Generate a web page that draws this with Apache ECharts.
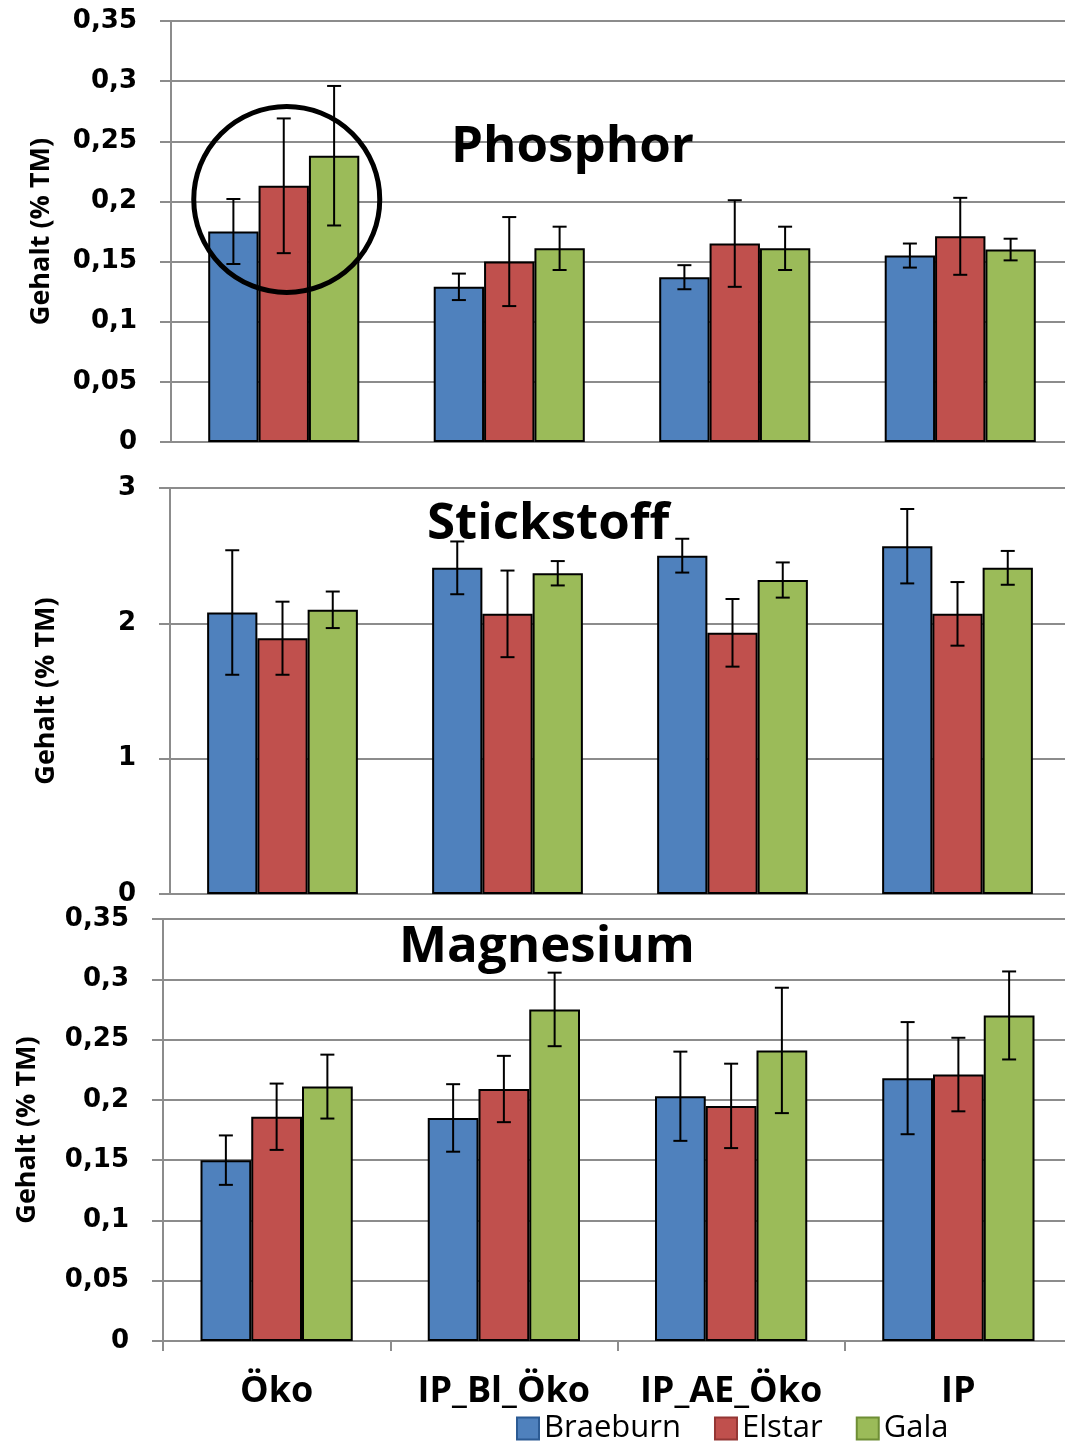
<!DOCTYPE html>
<html>
<head>
<meta charset="utf-8">
<script src="https://cdn.jsdelivr.net/npm/echarts@6/dist/echarts.min.js"></script>
<style>
  html, body { margin: 0; padding: 0; background: #fff; overflow: hidden; }
  #chart { width: 1080px; height: 1441px; }
</style>
</head>
<body>
<div id="chart"></div>
<script>
// Kategorien und Sorten
var categories = ['Öko', 'IP_Bl_Öko', 'IP_AE_Öko', 'IP'];
var varieties = ['Braeburn', 'Elstar', 'Gala'];
var colors = ['#4F81BD', '#C0504D', '#9BBB59'];
var legendBorders = ['#2C5B94', '#943634', '#6E8E35'];
var panelTitles = ['Phosphor', 'Stickstoff', 'Magnesium'];

// Phosphor (Mittelwert, Standardabweichung)
var phosphorBraeburn = [0.175, 0.129, 0.137, 0.155];
var phosphorElstar   = [0.213, 0.150, 0.165, 0.171];
var phosphorGala     = [0.238, 0.161, 0.161, 0.160];
var phosphorBraeburnSd = [0.027, 0.011, 0.010, 0.010];
var phosphorElstarSd   = [0.056, 0.037, 0.036, 0.032];
var phosphorGalaSd     = [0.058, 0.018, 0.018, 0.009];

// Stickstoff
var stickstoffBraeburn = [2.08, 2.41, 2.50, 2.57];
var stickstoffElstar   = [1.89, 2.07, 1.93, 2.07];
var stickstoffGala     = [2.10, 2.37, 2.32, 2.41];
var stickstoffBraeburnSd = [0.46, 0.195, 0.125, 0.275];
var stickstoffElstarSd   = [0.27, 0.32, 0.25, 0.235];
var stickstoffGalaSd     = [0.135, 0.09, 0.13, 0.125];

// Magnesium
var magnesiumBraeburn = [0.150, 0.185, 0.203, 0.218];
var magnesiumElstar   = [0.186, 0.209, 0.195, 0.221];
var magnesiumGala     = [0.211, 0.275, 0.241, 0.270];
var magnesiumBraeburnSd = [0.0205, 0.028, 0.037, 0.0465];
var magnesiumElstarSd   = [0.0275, 0.0275, 0.035, 0.0305];
var magnesiumGalaSd     = [0.0265, 0.0305, 0.052, 0.0365];

// Achsen
var yMax = [0.35, 3, 0.35];
var yInterval = [0.05, 1, 0.05];

var means = [
    [phosphorBraeburn, phosphorElstar, phosphorGala],
    [stickstoffBraeburn, stickstoffElstar, stickstoffGala],
    [magnesiumBraeburn, magnesiumElstar, magnesiumGala]
];
var sds = [
    [phosphorBraeburnSd, phosphorElstarSd, phosphorGalaSd],
    [stickstoffBraeburnSd, stickstoffElstarSd, stickstoffGalaSd],
    [magnesiumBraeburnSd, magnesiumElstarSd, magnesiumGalaSd]
];

var catGap = 0.33;
var gridGray = '#8C8C8C';
var tickFont = 'DejaVu Sans';
var textFont = 'Open Sans';

// der Container ist etwas breiter als das Fenster, damit die Kategorien rechts weiterlaufen
var grids = [
    {left: 171, top: 21, width: 902, height: 421},
    {left: 170, top: 488, width: 900, height: 406},
    {left: 163, top: 919, width: 909, height: 422}
];
var nameGaps = [116, 110, 122];
var titlePos = [
    {left: 446, top: 117},
    {left: 422, top: 494},
    {left: 394, top: 917}
];

var chart = echarts.init(document.getElementById('chart'));

var xAxes = [], yAxes = [], series = [], titles = [];
for (var p = 0; p < 3; p++) {
    var last = (p === 2);
    xAxes.push({
        type: 'category',
        gridIndex: p,
        data: categories,
        axisLine: {show: true, lineStyle: {color: gridGray, width: 2}},
        axisTick: {show: last, interval: 0, length: 10, lineStyle: {color: gridGray, width: 2}},
        axisLabel: {
            show: last, interval: 0, margin: 33, color: '#000',
            fontFamily: textFont, fontWeight: 'bold', fontSize: 36
        }
    });
    yAxes.push({
        type: 'value',
        gridIndex: p,
        min: 0,
        max: yMax[p],
        interval: yInterval[p],
        name: 'Gehalt (% TM)',
        nameLocation: 'middle',
        nameRotate: 90,
        nameGap: nameGaps[p],
        nameTextStyle: {color: '#000', fontFamily: textFont, fontWeight: 'bold', fontSize: 27},
        axisLine: {show: true, lineStyle: {color: gridGray, width: 2}},
        axisTick: {show: true, length: 11, lineStyle: {color: gridGray, width: 2}},
        splitLine: {lineStyle: {color: gridGray, width: 2}},
        axisLabel: {
            margin: 34, color: '#000',
            fontFamily: tickFont, fontWeight: 'bold', fontSize: 26,
            formatter: function (v) { return String(+v.toFixed(2)).replace('.', ','); }
        }
    });
    titles.push({
        text: panelTitles[p],
        left: titlePos[p].left,
        top: titlePos[p].top,
        textStyle: {color: '#000', fontFamily: textFont, fontWeight: 'bold', fontSize: 51}
    });

    for (var k = 0; k < 3; k++) {
        series.push({
            name: varieties[k],
            type: 'bar',
            xAxisIndex: p,
            yAxisIndex: p,
            barGap: '0%',
            barCategoryGap: (catGap * 100) + '%',
            itemStyle: {color: colors[k], borderColor: '#000', borderWidth: 2},
            data: means[p][k]
        });
        // Fehlerbalken
        var errData = [];
        for (var i = 0; i < categories.length; i++) {
            errData.push([i, means[p][k][i], sds[p][k][i]]);
        }
        series.push({
            name: varieties[k] + ' SD',
            type: 'custom',
            xAxisIndex: p,
            yAxisIndex: p,
            z: 5,
            data: errData,
            renderItem: (function (idx) {
                return function (params, api) {
                    var band = api.size([1, 0])[0];
                    var total = band * (1 - catGap);
                    var barW = total / 3;
                    var c = api.coord([api.value(0), api.value(1)]);
                    var x = c[0] - total / 2 + barW * (idx + 0.5);
                    var yTop = api.coord([api.value(0), api.value(1) + api.value(2)])[1];
                    var yBot = api.coord([api.value(0), api.value(1) - api.value(2)])[1];
                    var cap = 7;
                    var st = {stroke: '#000', lineWidth: 2};
                    return {
                        type: 'group',
                        children: [
                            {type: 'line', shape: {x1: x, y1: yTop, x2: x, y2: yBot}, style: st},
                            {type: 'line', shape: {x1: x - cap, y1: yTop, x2: x + cap, y2: yTop}, style: st},
                            {type: 'line', shape: {x1: x - cap, y1: yBot, x2: x + cap, y2: yBot}, style: st}
                        ]
                    };
                };
            })(k)
        });
    }
}

var option = {
    animation: false,
    backgroundColor: '#fff',
    title: titles,
    grid: grids,
    xAxis: xAxes,
    yAxis: yAxes,
    legend: {
        left: 511,
        top: 1408,
        itemWidth: 22,
        itemHeight: 22,
        itemGap: 33,
        selectedMode: false,
        textStyle: {color: '#000', fontFamily: textFont, fontSize: 31},
        data: varieties.map(function (v, i) {
            return {name: v, icon: 'rect', itemStyle: {color: colors[i], borderColor: legendBorders[i], borderWidth: 2}};
        })
    },
    series: series
};
chart.setOption(option);

// Kreis um die Öko-Gruppe (Phosphor)
var center = chart.convertToPixel({xAxisIndex: 0, yAxisIndex: 0}, ['Öko', 0.2]);
chart.setOption({
    graphic: [{
        type: 'circle',
        shape: {cx: center[0] + 3, cy: center[1] - 2, r: 93},
        style: {fill: 'none', stroke: '#000', lineWidth: 5},
        z: 10
    }]
});
</script>
</body>
</html>
